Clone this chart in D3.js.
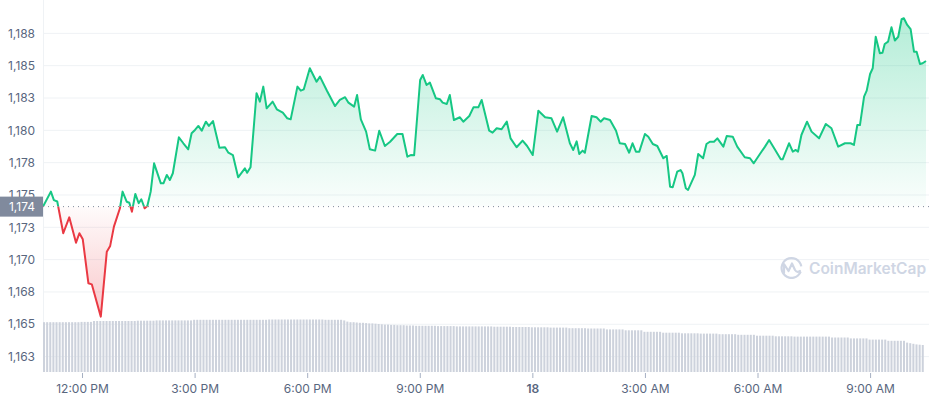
<!DOCTYPE html>
<html><head><meta charset="utf-8">
<script src="https://cdn.jsdelivr.net/npm/d3@7"></script>
<style>body{margin:0;background:#fff}svg{display:block;font-family:Inter,"Noto Sans",sans-serif}</style>
</head><body><svg id="c" width="929" height="400"></svg>
<script>
// price series: hours since 00:00 of day 17 (UTC), price
const hours=[10.96,11.17,11.25,11.34,11.50,11.66,11.84,11.93,12.02,12.17,12.26,12.50,12.66,12.75,12.85,13.01,13.08,13.19,13.26,13.33,13.42,13.51,13.58,13.67,13.74,13.83,13.92,14.10,14.17,14.26,14.34,14.42,14.58,14.70,14.83,14.92,15.01,15.10,15.19,15.30,15.38,15.49,15.66,15.81,15.90,16.02,16.16,16.34,16.40,16.49,16.65,16.74,16.83,16.92,17.08,17.19,17.35,17.47,17.56,17.74,17.83,17.91,18.07,18.25,18.34,18.53,18.74,18.87,19.01,19.10,19.25,19.33,19.43,19.57,19.67,19.81,19.92,20.07,20.21,20.40,20.54,20.67,20.76,20.85,21.01,21.08,21.18,21.27,21.43,21.54,21.61,21.72,21.80,21.91,22.07,22.16,22.32,22.43,22.56,22.65,22.85,22.94,23.05,23.18,23.32,23.42,23.58,23.74,23.86,24.01,24.16,24.34,24.51,24.66,24.82,25.00,25.09,25.18,25.25,25.34,25.40,25.58,25.71,25.82,25.91,26.07,26.23,26.33,26.47,26.58,26.67,26.76,26.85,27.00,27.09,27.21,27.33,27.49,27.58,27.67,27.74,27.86,27.95,28.00,28.09,28.15,28.33,28.42,28.55,28.64,28.73,28.84,28.93,29.09,29.18,29.34,29.46,29.66,29.80,29.90,30.06,30.20,30.31,30.46,30.62,30.67,30.84,30.94,31.02,31.08,31.17,31.32,31.44,31.64,31.82,31.97,32.15,32.33,32.48,32.57,32.66,32.73,32.84,32.91,33.00,33.07,33.15,33.26,33.33,33.39,33.48,33.57,33.66,33.75,33.84,33.90,33.99,34.08,34.17,34.24,34.33,34.40,34.49];
const prices=[1174.1,1175.26,1174.6,1174.5,1172.04,1173.27,1171.31,1172.04,1171.57,1168.17,1168.09,1165.59,1170.61,1171.06,1172.55,1173.97,1175.26,1174.48,1174.4,1173.71,1175.08,1174.36,1174.67,1173.97,1174.15,1175.26,1177.45,1175.9,1175.9,1176.55,1176.16,1176.68,1179.46,1179.0,1178.53,1179.77,1180.03,1180.34,1179.97,1180.67,1180.34,1180.72,1178.65,1178.69,1178.27,1178.09,1176.37,1177.06,1176.72,1177.14,1182.87,1182.22,1183.38,1181.7,1182.22,1181.63,1181.37,1180.93,1180.85,1183.38,1183.07,1183.17,1184.8,1183.76,1184.15,1183.04,1181.88,1182.35,1182.56,1182.14,1181.83,1182.73,1180.85,1179.9,1178.53,1178.43,1179.97,1178.79,1179.12,1179.72,1179.72,1177.96,1178.09,1178.07,1183.89,1184.28,1183.51,1183.69,1182.48,1182.4,1182.14,1182.04,1182.73,1180.8,1181.01,1180.67,1181.11,1181.78,1181.78,1182.35,1179.97,1179.82,1180.16,1180.08,1180.67,1179.38,1178.69,1179.2,1178.79,1178.09,1181.52,1181.01,1180.93,1179.9,1181.01,1179.0,1178.48,1179.15,1178.17,1178.43,1178.27,1181.11,1181.01,1180.67,1180.93,1180.8,1179.97,1179.0,1178.94,1178.27,1179.0,1178.35,1178.35,1179.72,1179.51,1178.94,1178.79,1177.84,1178.02,1175.64,1175.6,1176.8,1176.93,1176.68,1175.52,1175.39,1176.55,1178.17,1177.84,1178.94,1179.12,1179.12,1179.38,1178.74,1179.56,1179.51,1178.74,1177.92,1177.84,1177.45,1178.15,1178.74,1179.25,1178.53,1177.76,1177.76,1179.0,1178.35,1178.48,1178.35,1179.64,1180.67,1179.9,1179.38,1180.49,1180.16,1178.74,1179.0,1179.0,1178.87,1180.41,1180.41,1182.6,1183.07,1184.36,1184.8,1187.24,1185.96,1186.0,1186.68,1186.86,1187.97,1186.94,1187.24,1188.59,1188.67,1188.15,1187.82,1186.08,1186.08,1185.13,1185.19,1185.36];
// volume bars, one per 5 minutes from the first hour value (billions)
const volumes=[
8.3,8.3,8.3,8.3,8.3,8.3,8.3,8.3,8.3,8.3,8.3,8.3,
8.35,8.35,8.35,8.35,8.5,8.5,8.5,8.5,8.5,8.5,8.5,8.5,
8.5,8.5,8.5,8.5,8.5,8.5,8.55,8.55,8.55,8.55,8.55,8.55,
8.6,8.6,8.6,8.6,8.6,8.6,8.6,8.6,8.6,8.6,8.6,8.6,
8.7,8.7,8.7,8.7,8.7,8.7,8.7,8.7,8.7,8.7,8.7,8.7,
8.7,8.7,8.7,8.7,8.7,8.7,8.7,8.7,8.7,8.7,8.7,8.7,
8.75,8.75,8.75,8.75,8.75,8.75,8.75,8.75,8.75,8.75,8.75,8.75,
8.75,8.75,8.75,8.75,8.75,8.75,8.7,8.7,8.7,8.7,8.7,8.7,
8.6,8.4,8.3,8.3,8.25,8.2,8.2,8.15,8.1,8.1,8.05,8.0,
7.95,7.9,7.9,7.85,7.85,7.8,7.8,7.8,7.75,7.75,7.75,7.7,
7.7,7.7,7.7,7.7,7.7,7.7,7.65,7.65,7.65,7.65,7.65,7.65,
7.6,7.6,7.6,7.6,7.6,7.6,7.6,7.6,7.6,7.6,7.6,7.6,
7.55,7.55,7.55,7.55,7.55,7.55,7.5,7.5,7.5,7.5,7.5,7.5,
7.45,7.45,7.45,7.45,7.45,7.45,7.4,7.4,7.4,7.4,7.4,7.4,
7.3,7.3,7.3,7.3,7.3,7.3,7.25,7.25,7.25,7.25,7.25,7.25,
7.1,7.1,7.1,7.1,7.1,7.1,6.95,6.95,6.95,6.95,6.95,6.95,
6.7,6.7,6.7,6.7,6.7,6.7,6.55,6.55,6.55,6.55,6.55,6.55,
6.45,6.45,6.45,6.45,6.45,6.45,6.4,6.4,6.4,6.4,6.4,6.4,
6.3,6.3,6.3,6.3,6.3,6.3,6.2,6.2,6.2,6.2,6.2,6.2,
6.05,6.05,6.05,6.05,6.05,6.05,5.95,5.95,5.95,5.95,5.95,5.95,
5.9,5.9,5.9,5.9,5.9,5.9,5.9,5.9,5.9,5.9,5.9,5.9,
5.75,5.75,5.75,5.75,5.75,5.75,5.6,5.6,5.6,5.6,5.6,5.6,
5.4,5.4,5.4,5.4,5.4,5.4,5.2,5.2,5.2,5.2,5.2,5.2,
4.9,4.8,4.7,4.6,4.55,4.5];
const baseline=1174.1;
const baselineLabel="1,174";
const yTicks=[1162.5,1165,1167.5,1170,1172.5,1175,1177.5,1180,1182.5,1185,1187.5];
const yTickLabels=["1,163","1,165","1,168","1,170","1,173","1,175","1,178","1,180","1,183","1,185","1,188"];
const xTickHours=[12,15,18,21,24,27,30,33];
const xTickLabels=["12:00 PM","3:00 PM","6:00 PM","9:00 PM","18","3:00 AM","6:00 AM","9:00 AM"];

const base=Date.UTC(2022,11,17);
const toDate=h=>new Date(base+h*3600e3);
const data=hours.map((h,i)=>({t:toDate(h),v:prices[i]}));

const L=43,R=926,T=0,B=372;
const svg=d3.select("#c");
const x=d3.scaleUtc().domain([toDate(hours[0]),toDate(hours[hours.length-1])]).range([L,R]);
const y=d3.scaleLinear().domain([1161.31,1190.08]).range([B,T]);
const yv=d3.scaleLinear().domain([0,10]).range([B,B-60]);
const by=y(baseline);

const defs=svg.append("defs");
defs.append("clipPath").attr("id","plot").append("rect").attr("x",L).attr("y",T).attr("width",R-L).attr("height",B-T);
defs.append("clipPath").attr("id","above").append("rect").attr("x",L).attr("y",T-5).attr("width",R-L+5).attr("height",by-T+5);
defs.append("clipPath").attr("id","below").append("rect").attr("x",L).attr("y",by).attr("width",R-L+5).attr("height",B-by);
const gg=defs.append("linearGradient").attr("id","gg").attr("gradientUnits","userSpaceOnUse").attr("x1",0).attr("x2",0).attr("y1",y(d3.max(prices))).attr("y2",by);
gg.append("stop").attr("offset",0).attr("stop-color","#16c784").attr("stop-opacity",0.32);
gg.append("stop").attr("offset",1).attr("stop-color","#16c784").attr("stop-opacity",0.02);
const rg=defs.append("linearGradient").attr("id","rg").attr("gradientUnits","userSpaceOnUse").attr("x1",0).attr("x2",0).attr("y1",by).attr("y2",y(d3.min(prices)));
rg.append("stop").attr("offset",0).attr("stop-color","#ea3943").attr("stop-opacity",0.02);
rg.append("stop").attr("offset",1).attr("stop-color","#ea3943").attr("stop-opacity",0.28);

// grid
svg.append("g").selectAll("line").data(yTicks).join("line")
  .attr("x1",L).attr("x2",R+3).attr("y1",d=>y(d)).attr("y2",d=>y(d))
  .attr("stroke","#eff2f5").attr("stroke-width",1);
svg.append("line").attr("x1",L+0.5).attr("x2",L+0.5).attr("y1",T).attr("y2",B).attr("stroke","#eff2f5");

// y labels
svg.append("g").selectAll("text").data(yTicks).join("text")
  .attr("x",35).attr("y",d=>y(d)).attr("dy","0.35em").attr("text-anchor","end")
  .attr("font-size",12).attr("fill","#58667e").text((d,i)=>yTickLabels[i]);

// volume bars
const step=5*60e3;
svg.append("g").attr("clip-path","url(#plot)").selectAll("rect").data(volumes).join("rect")
  .attr("x",(d,i)=>x(new Date(+x.domain()[0]+i*step)))
  .attr("width",(d,i)=>Math.max(0.5,x(new Date(+x.domain()[0]+(i+1)*step))-x(new Date(+x.domain()[0]+i*step))-1.1))
  .attr("y",d=>yv(d)).attr("height",d=>B-yv(d))
  .attr("fill","#cdd2dc");

// areas & lines
const area=d3.area().x(d=>x(d.t)).y0(by).y1(d=>y(d.v));
const line=d3.line().x(d=>x(d.t)).y(d=>y(d.v));
svg.append("path").datum(data).attr("d",area).attr("fill","url(#gg)").attr("clip-path","url(#above)");
svg.append("path").datum(data).attr("d",area).attr("fill","url(#rg)").attr("clip-path","url(#below)");
svg.append("path").datum(data).attr("d",line).attr("fill","none").attr("stroke","#16c784").attr("stroke-width",2).attr("stroke-linejoin","round").attr("clip-path","url(#above)");
svg.append("path").datum(data).attr("d",line).attr("fill","none").attr("stroke","#ea3943").attr("stroke-width",2).attr("stroke-linejoin","round").attr("clip-path","url(#below)");

// baseline
svg.append("line").attr("x1",L).attr("x2",R+3).attr("y1",by).attr("y2",by)
  .attr("stroke","#808a9d").attr("stroke-width",1).attr("stroke-dasharray","1,4");
svg.append("rect").attr("x",0).attr("y",by-10).attr("width",L).attr("height",20).attr("fill","#808a9d");
svg.append("text").attr("x",35).attr("y",by).attr("dy","0.35em").attr("text-anchor","end")
  .attr("font-size",12).attr("fill","#ffffff").text(baselineLabel);

// x axis
const xa=svg.append("g").attr("transform",`translate(0,${B+1})`)
  .call(d3.axisBottom(x).tickValues(xTickHours.map(toDate)).tickSize(5).tickPadding(6).tickFormat((d,i)=>xTickLabels[i]));
xa.select(".domain").remove();
xa.selectAll(".tick line").attr("stroke","#a6b0c3");
xa.selectAll(".tick text").attr("font-size",12).attr("fill","#58667e").attr("font-family","Inter,'Noto Sans',sans-serif")
  .attr("font-weight",(d,i)=>xTickLabels[i]==="18"?600:400);

// watermark
const wm=svg.append("g").attr("opacity",1);
wm.append("path").attr("d",d3.arc()({innerRadius:8.8,outerRadius:11,startAngle:Math.PI*0.62,endAngle:Math.PI*2.45}))
  .attr("transform","translate(791.5,268)").attr("fill","#cfd6e4");
wm.append("path").attr("d","M784,273 L784,264 L788.5,271 L792,263.5 L795,270 Q797,273 800,271")
  .attr("fill","none").attr("stroke","#cfd6e4").attr("stroke-width",2.2).attr("stroke-linejoin","round").attr("stroke-linecap","round");
wm.append("text").attr("x",809).attr("y",274).attr("font-size",15.5).attr("font-weight",600)
  .attr("fill","#cfd6e4").text("CoinMarketCap");
</script></body></html>
